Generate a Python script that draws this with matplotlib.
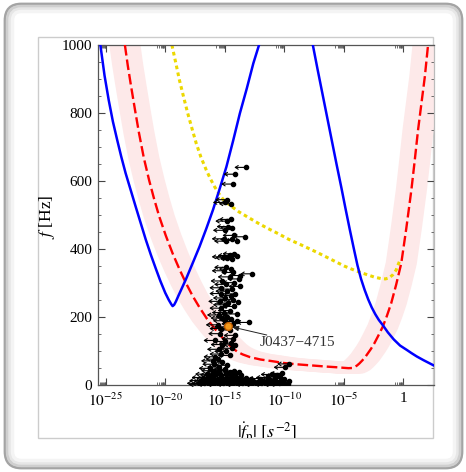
import numpy as np
import matplotlib
matplotlib.use('Agg')
import matplotlib.pyplot as plt
from matplotlib.patches import FancyBboxPatch, Rectangle
from matplotlib.ticker import FixedLocator, NullFormatter
import matplotlib.transforms as mtransforms

plt.rcParams['font.family'] = ['Liberation Serif', 'DejaVu Serif']
plt.rcParams['mathtext.fontset'] = 'stix'

# ---------------- data (x values are log10 |fdot_p| in s^-2, y values f in Hz)
blue_left_logfdot = [-25.45, -25.1, -24.75, -24.4, -24.04, -23.7, -23.33, -22.9, -22.48, -22.06, -21.64,
                     -21.2, -20.79, -20.4, -20.0, -19.7, -19.5, -19.38, -19.25, -19.1, -18.9, -18.6,
                     -18.25, -17.7, -17.12, -16.55, -15.99, -15.42, -14.86, -14.3, -13.73, -13.15,
                     -12.6, -12.12]
blue_left_freq = [1000, 910, 838, 775, 721, 672, 623, 573, 524, 476, 428,
                  382, 342, 305, 271, 250, 238, 232, 236, 246, 262, 285,
                  312, 358, 407, 460, 515, 578, 642, 718, 799, 872,
                  946, 1000]

blue_right_logfdot = [-7.6, -7.2, -6.8, -6.4, -6.0, -5.6, -5.2, -4.85, -4.5, -4.15, -3.85, -3.55,
                      -3.25, -2.95, -2.65, -2.35, -2.05, -1.72, -1.3, -0.8, -0.27, 0.3, 0.68, 1.13,
                      1.7, 2.2, 2.7]
blue_right_freq = [1000, 928, 858, 788, 718, 648, 580, 518, 458, 400, 352, 312,
                   280, 252, 228, 208, 191, 176, 155, 134, 116, 103, 94, 84,
                   73, 64, 55]

red_logfdot = [-23.39, -23.15, -22.91, -22.55, -22.2, -21.8, -21.36, -20.95, -20.5, -19.95, -19.38,
               -18.8, -18.25, -17.7, -17.12, -16.5, -15.8, -15.4, -15.0, -14.6, -14.3, -13.9,
               -13.5, -12.88, -12.0, -11.0, -10.1, -9.0, -7.5, -6.4, -5.5, -5.0, -4.6, -4.3,
               -4.1, -3.9, -3.7, -3.45, -3.2, -3.0, -2.72, -2.44, -2.1, -1.73, -1.38, -1.02,
               -0.6, -0.17, 0.25, 0.68, 0.96, 1.24, 1.53, 1.81, 2.08]
red_freq = [1000, 940, 887, 811, 740, 668, 603, 549, 495, 439, 387,
            340, 299, 262, 228, 195, 164, 148, 131, 117, 107, 97,
            90, 82, 75, 70, 65, 61, 57, 54, 52, 50.5, 49.5, 50,
            53, 57, 63, 72, 82, 92, 106, 122, 145, 171, 203, 240,
            295, 358, 460, 574, 660, 750, 830, 907, 1000]

yellow_logfdot = [-19.44, -19.1, -18.81, -18.45, -18.11, -17.75, -17.4, -17.0, -16.55, -16.2, -15.85,
                  -15.6, -15.42, -15.14, -14.58, -13.8, -12.88, -12.2, -11.47, -10.5, -9.6, -8.64,
                  -7.24, -6.1, -4.97, -4.0, -3.0, -2.4, -1.86, -1.5, -1.2, -0.88, -0.6, -0.46, -0.3]
yellow_freq = [1000, 945, 897, 846, 799, 754, 711, 670, 632, 606, 583,
               569, 559, 546, 529, 509, 490, 476, 462, 445, 428, 413,
               390, 370, 350, 336, 324, 317, 313, 312, 315, 324, 338, 352, 365]

# pulsars: log10 |fdot| (upper limits) and spin frequency
psr_logfdot = [
    -13.2, -14.1, -14.3, -14.8, -14.5, -15.0,
    -14.5, -14.8, -14.7, -14.4, -15.0,
    -13.3, -14.0, -14.4, -14.9, -14.2, -15.1,
    -14.2, -14.6, -14.0, -14.8, -14.4, -15.1,
    -14.9, -14.5, -12.7, -14.3, -15.1, -13.7,
    -14.6, -13.8, -15.2, -14.2, -14.9, -13.7, -15.3, -14.4,
    -14.8, -15.3, -14.5, -15.0, -14.3, -15.4, -14.7, -14.1,
    -15.0, -14.2, -15.3, -14.6, -15.1, -14.0, -15.5, -14.8, -13.9,
    -15.2, -14.5, -13.0, -15.0, -14.3, -15.6, -14.9, -15.3, -14.6, -14.0,
    -15.4, -14.3, -15.8, -15.0, -14.5, -15.2, -14.1,
    -14.4, -15.5, -14.9, -15.3, -14.6, -15.8, -14.1,
    -15.6, -16.0, -15.2, -15.9, -14.8, -9.6, -9.9, -15.5, -16.2, -15.0,
    -16.0, -15.5, -15.0, -14.6, -14.2, -13.8,
    -16.5, -16.1, -15.7, -15.3, -14.9, -14.5, -14.1, -13.6, -11.0, -10.2, -10.6,
    -16.8, -16.4, -16.0, -15.6, -15.2, -14.8, -14.4, -14.0, -13.6, -13.2, -12.8, -12.0, -11.4, -10.8, -10.4, -10.0,
    -17.0, -16.6, -16.2, -15.8, -15.4, -15.0, -14.6, -14.2, -13.8, -13.4, -13.0, -12.6, -12.2, -11.8, -11.4, -11.0, -10.6, -10.2, -9.6,
    -17.2, -16.8, -16.4, -16.0, -15.6, -15.2, -14.8, -14.4, -14.0, -13.6, -13.2, -12.8, -12.4, -12.0, -11.6, -11.2, -10.8, -10.4, -10.0, -9.7,
    -17.0, -16.3, -15.5, -14.7, -13.9, -13.1, -12.3, -11.5, -10.7, -10.2,
]
psr_freq = [
    640, 620, 591, 545, 533, 537,
    487, 482, 466, 462, 455,
    436, 425, 428, 423, 440, 430,
    386, 381, 378, 374, 371, 377,
    346, 341, 327, 331, 336, 322,
    318, 312, 306, 301, 296, 290, 286, 282,
    276, 269, 263, 256, 251, 246, 241, 268,
    236, 231, 226, 219, 213, 209, 206, 201, 245,
    197, 193, 184, 189, 180, 177, 171, 166, 162, 187,
    151, 136, 131, 128, 123, 119, 146,
    108, 105, 99, 91, 87, 83, 118,
    76, 71, 67, 61, 58, 62, 52, 53, 49, 46,
    42, 40, 43, 38, 41, 37,
    32, 30, 33, 29, 31, 28, 32, 30, 31, 34, 28,
    22, 20, 23, 19, 21, 18, 22, 20, 19, 21, 18, 19, 22, 20, 24, 19,
    13, 11, 14, 12, 10, 13, 11, 14, 10, 12, 11, 13, 10, 12, 11, 13, 10, 12, 11,
    5, 4, 6, 3, 5, 4, 6, 3, 5, 4, 6, 3, 5, 4, 6, 3, 5, 4, 6, 3,
    1, 1.5, 1, 1.5, 1, 1.5, 1, 1.5, 1, 1.5,
]
limit_decades = 1.0  # arrow length of the upper limits

j0437_logfdot = -14.75
j0437_freq = 173.7
j0437_label = 'J0437\u22124715'

x_ticks_exp = [-25, -20, -15, -10, -5, 0]
x_tick_labels = [r'$10^{-25}$', r'$10^{-20}$', r'$10^{-15}$', r'$10^{-10}$', r'$10^{-5}$', '1']
y_ticks = [0, 200, 400, 600, 800, 1000]

# ---------------- figure
W, H = 466, 472
fig = plt.figure(figsize=(W / 100, H / 100), dpi=100, facecolor='white')

def fx(px):
    return px / W

def fy(py):
    return 1 - py / H

# outer rounded frame with soft inner shadow
for inset, ec, lw in [(0, '#a4a4a4', 2.0), (2.5, '#cfcfcf', 2.5), (5, '#e6e6e6', 2.5), (7.5, '#f4f4f4', 2.5)]:
    fr = FancyBboxPatch((fx(5 + inset), fy(468 - inset)), fx(457 - 2 * inset), (464 - 2 * inset) / H,
                        boxstyle='round,pad=0,rounding_size=%f' % (0.035 - inset / W),
                        transform=fig.transFigure, fc='white' if inset == 0 else 'none',
                        ec=ec, lw=lw, zorder=-3 + inset / 100)
    fig.add_artist(fr)

inner = Rectangle((fx(38), fy(438)), fx(433 - 38), (438 - 37) / H, transform=fig.transFigure,
                  fc='white', ec='#cccccc', lw=1.0, zorder=-1)
fig.add_artist(inner)

ax = fig.add_axes([fx(98), fy(385), fx(434 - 98), (385 - 45) / H])
ax.set_zorder(1)
ax.set_facecolor('none')
ax.set_xscale('log')
ax.set_xlim(10 ** -25.65, 10 ** 2.58)
ax.set_ylim(0, 1000)

def tox(lst):
    return [10.0 ** v for v in lst]

# pink uncertainty band: thick line swept horizontally
for dx in np.arange(-10, 10.1, 2.0):
    tr = mtransforms.offset_copy(ax.transData, fig=fig, x=dx, y=0, units='dots')
    ax.plot(tox(red_logfdot), red_freq, color='#fde9e9', lw=8, solid_capstyle='projecting',
            solid_joinstyle='round', transform=tr, zorder=1)

ax.plot(tox(yellow_logfdot), yellow_freq, color='#ecd800', lw=2.2, linestyle=(0, (1.2, 1.1)),
        dash_capstyle='butt', zorder=2)
ax.plot(tox(red_logfdot), red_freq, color='#ff0000', lw=1.7, linestyle=(0, (4.5, 1.7)), zorder=3)
ax.plot(tox(blue_left_logfdot), blue_left_freq, color='#0000ff', lw=1.8, zorder=4)
ax.plot(tox(blue_right_logfdot), blue_right_freq, color='#0000ff', lw=1.8, zorder=4)

# pulsar upper limits
for lx, f in zip(psr_logfdot, psr_freq):
    ax.annotate('', xy=(10 ** (lx - limit_decades), f), xytext=(10 ** lx, f),
                arrowprops=dict(arrowstyle='->,head_length=0.35,head_width=0.22', lw=0.8, color='black',
                                shrinkA=0, shrinkB=0, mutation_scale=6), zorder=5)
ax.plot(tox(psr_logfdot), psr_freq, 'o', color='black', ms=3, zorder=6, clip_on=True)

# J0437-4715
ax.plot([10 ** j0437_logfdot], [j0437_freq], 'o', ms=5.5, mfc='#f39a1e', mec='#c45f00', mew=1.0, zorder=7)
ax.annotate('', xy=(10 ** j0437_logfdot, j0437_freq), xytext=(10 ** -11.47, 147),
            arrowprops=dict(arrowstyle='-|>,head_length=0.5,head_width=0.2', lw=0.7, color='#222222',
                            shrinkA=0, shrinkB=3, mutation_scale=8), zorder=7)
ax.text(10 ** -12.05, 126, j0437_label, fontsize=11, color='#333333', ha='left', va='center', zorder=7)

# ticks
ax.xaxis.set_major_locator(FixedLocator([10.0 ** e for e in x_ticks_exp]))
ax.set_xticklabels(x_tick_labels)
minor_x = []
for e in x_ticks_exp + [5]:
    for k in range(2, 10):
        minor_x.append(k * 10.0 ** (e - 1))
ax.xaxis.set_minor_locator(FixedLocator(minor_x))
ax.xaxis.set_minor_formatter(NullFormatter())
ax.set_yticks(y_ticks)
ax.set_yticklabels([str(v) for v in y_ticks])
ax.yaxis.set_minor_locator(FixedLocator(list(range(0, 1001, 50))))

ax.tick_params(axis='both', which='major', direction='in', length=5, width=0.8, color='#444444',
               labelsize=11, top=True, right=True, pad=4)
ax.tick_params(axis='both', which='minor', direction='in', length=2.5, width=0.6, color='#555555',
               top=True, right=True)
ax.tick_params(axis='x', which='major', labelsize=11, pad=5)
for s in ['left', 'bottom', 'top']:
    ax.spines[s].set_color('#555555')
    ax.spines[s].set_linewidth(0.9)
ax.spines['right'].set_color('#bbbbbb')
ax.spines['right'].set_linewidth(0.9)

# axis labels
fig.text(fx(47), fy(217), r'$f$ [Hz]', rotation=90, ha='center', va='center', fontsize=12.5)
xl = fig.text(fx(267), fy(433), r'$|\dot{f}_{\mathrm{p}}|\ [s^{-2}]$', ha='center', va='center', fontsize=13)
xl.set_clip_path(inner)

fig.savefig('out.png', dpi=100, facecolor='white')
